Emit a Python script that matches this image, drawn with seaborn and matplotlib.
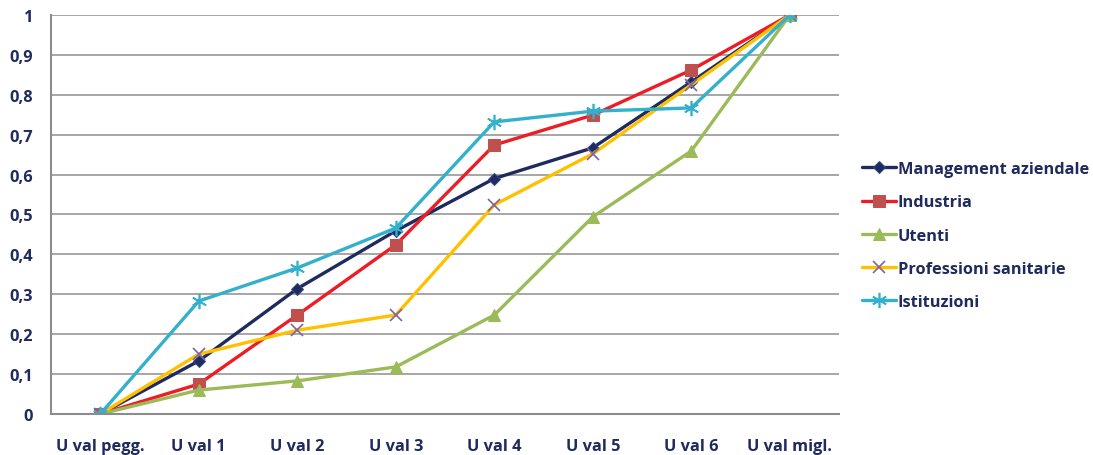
import matplotlib
matplotlib.use("Agg")
import matplotlib.pyplot as plt
import seaborn as sns
import pandas as pd

categories = ["U val pegg.", "U val 1", "U val 2", "U val 3", "U val 4", "U val 5", "U val 6", "U val migl."]
management = [0, 0.133, 0.314, 0.459, 0.590, 0.667, 0.832, 1.0]
industria = [0, 0.075, 0.248, 0.424, 0.674, 0.749, 0.862, 1.0]
utenti = [0, 0.060, 0.083, 0.118, 0.248, 0.494, 0.659, 1.0]
professioni = [0, 0.150, 0.210, 0.248, 0.524, 0.652, 0.825, 1.0]
istituzioni = [0, 0.283, 0.366, 0.466, 0.732, 0.759, 0.767, 1.0]
y_ticks = [0, 0.1, 0.2, 0.3, 0.4, 0.5, 0.6, 0.7, 0.8, 0.9, 1.0]
y_tick_labels = ["0", "0,1", "0,2", "0,3", "0,4", "0,5", "0,6", "0,7", "0,8", "0,9", "1"]

series = [
    ("Management aziendale", management, dict(color="#1F2A5E", marker="D", markersize=6.5,
                                               markerfacecolor="#1F2A5E", markeredgecolor="#2F4A8A")),
    ("Industria", industria, dict(color="#EE1C25", marker="s", markersize=9,
                                  markerfacecolor="#C0504D", markeredgecolor="#C0504D")),
    ("Utenti", utenti, dict(color="#9BBB59", marker="^", markersize=9,
                            markerfacecolor="#9BBB59", markeredgecolor="#9BBB59")),
    ("Professioni sanitarie", professioni, dict(color="#FFC000", marker="x", markersize=9,
                                                markeredgecolor="#8064A2", markeredgewidth=1.2)),
    ("Istituzioni", istituzioni, dict(color="#33B0CC", marker=(6, 2, 0), markersize=11,
                                      markeredgecolor="#33B0CC", markeredgewidth=1.2)),
]

sns.set_style("white")
plt.rcParams["font.family"] = ["Open Sans", "DejaVu Sans"]
text_color = "#1F2A5E"
fs = 11.8

fig = plt.figure(figsize=(10.93, 4.56), dpi=100)
ax = fig.add_axes([0.0467, 0.0899, 0.7209, 0.8751])

x = list(range(len(categories)))
for name, vals, style in series:
    df = pd.DataFrame({"x": x, "y": vals})
    sns.lineplot(data=df, x="x", y="y", ax=ax, label=name, linewidth=2.4, **style)

ax.set_xlim(-0.5, len(categories) - 0.5)
ax.set_ylim(0, 1)
ax.set_yticks(y_ticks)
ax.set_yticklabels(y_tick_labels)
ax.set_xticks(x)
ax.set_xticklabels(categories)
ax.set_xlabel("")
ax.set_ylabel("")
ax.grid(axis="y", color="#A6A6A6", linewidth=1.4)
ax.grid(axis="x", visible=False)
ax.set_axisbelow(True)
for s in ["top", "right"]:
    ax.spines[s].set_visible(False)
for s in ["left", "bottom"]:
    ax.spines[s].set_color("#8C8C8C")
    ax.spines[s].set_linewidth(1.5)
ax.tick_params(axis="both", length=0, colors=text_color, labelsize=fs)
ax.tick_params(axis="y", pad=13)
ax.tick_params(axis="x", pad=17)
for lab in ax.get_xticklabels() + ax.get_yticklabels():
    lab.set_fontweight("bold")
    lab.set_color(text_color)

leg = ax.legend(loc="center left", bbox_to_anchor=(1.01, 0.447), frameon=False,
                handlelength=2.1, handletextpad=0.1, labelspacing=1.05,
                prop={"weight": "bold", "size": fs})
for t in leg.get_texts():
    t.set_color(text_color)

fig.savefig("out.png", dpi=100)
